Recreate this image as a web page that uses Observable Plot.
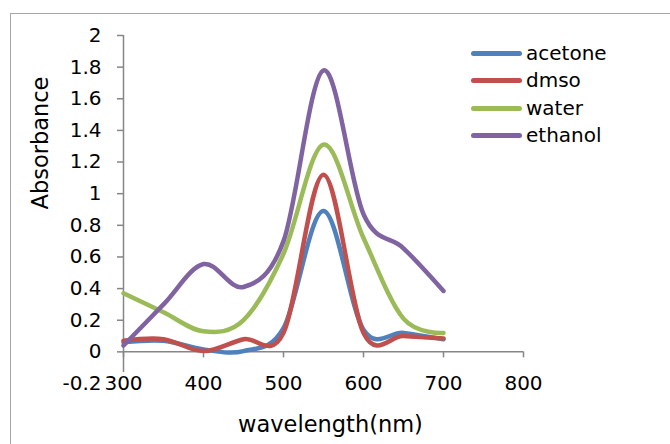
<!DOCTYPE html>
<html>
<head>
<meta charset="utf-8">
<script src="https://cdn.jsdelivr.net/npm/d3@7"></script>
<script src="https://cdn.jsdelivr.net/npm/@observablehq/plot@0.6"></script>
<style>
  html, body { margin: 0; padding: 0; background: #fff; }
  #wrap { position: relative; width: 670px; height: 444px; overflow: hidden; background: #fff; }
  #frame { position: absolute; left: 10px; top: 13px; width: 800px; height: 600px;
           border-left: 1.5px solid #a6a6a6; border-top: 1.5px solid #a6a6a6; }
  #chart { position: absolute; left: 0; top: 0; }
  #legend { position: absolute; left: 471px; top: 40px; font-family: "DejaVu Sans"; font-size: 20px;
            line-height: 27.3px; color: #000; }
  #legend .sw { display: inline-block; width: 51px; height: 5px; border-radius: 3px; vertical-align: middle; margin-right: 4px; position: relative; top: -1px; }
</style>
</head>
<body>
<div id="wrap">
  <div id="frame"></div>
  <div id="chart"></div>
  <div id="legend"></div>
</div>
<script>
// ---- data ----
const wavelengths = [300, 350, 400, 450, 500, 550, 600, 650, 700];
const acetone = [0.06, 0.07, 0.015, 0.005, 0.15, 0.89, 0.14, 0.12, 0.08];
const dmso    = [0.07, 0.08, 0.005, 0.08, 0.12, 1.12, 0.12, 0.10, 0.085];
const water   = [0.37, 0.25, 0.13, 0.20, 0.62, 1.31, 0.72, 0.21, 0.12];
const ethanol = [0.04, 0.30, 0.555, 0.41, 0.70, 1.78, 0.87, 0.655, 0.385];

const seriesNames = ["acetone", "dmso", "water", "ethanol"];
const seriesValues = [acetone, dmso, water, ethanol];
const seriesColors = ["#4F81BD", "#C0504D", "#9BBB59", "#8064A2"];

const xTicks = [300, 400, 500, 600, 700, 800];
const yTicks = [0, 0.2, 0.4, 0.6, 0.8, 1, 1.2, 1.4, 1.6, 1.8, 2];
const yBottomLabel = [-0.2];
const xTitle = "wavelength(nm)";
const yTitle = "Absorbance";

const rows = seriesNames.flatMap((name, i) =>
  wavelengths.map((w, j) => ({series: name, wavelength: w, absorbance: seriesValues[i][j]})));

const fmt = d => String(Math.round(d * 10) / 10);
const axisColor = "#868686";

const chart = Plot.plot({
  width: 670,
  height: 444,
  marginLeft: 123,
  marginRight: 147,
  marginTop: 35,
  marginBottom: 61,
  style: {fontFamily: "DejaVu Sans", fontSize: "20px", color: "#000", background: "transparent"},
  x: {domain: [300, 800], axis: null},
  y: {domain: [-0.2, 2], axis: null},
  color: {domain: seriesNames, range: seriesColors},
  marks: [
    // y axis line and ticks
    Plot.ruleX([300], {y1: -0.13, y2: 2, stroke: axisColor, strokeWidth: 1.5}),
    Plot.axisY(yTicks, {anchor: "left", tickSize: 6, tickPadding: 16, tickFormat: fmt,
                        stroke: axisColor, strokeWidth: 1.5, label: null, fontSize: 20}),
    Plot.axisY(yBottomLabel, {anchor: "left", tickSize: 0, tickPadding: 22, tickFormat: fmt,
                              label: null, fontSize: 20}),
    // x axis line at y = 0, ticks downward, labels at the bottom
    Plot.ruleY([0], {x1: 300, x2: 800, stroke: axisColor, strokeWidth: 1.5}),
    Plot.ruleX(xTicks, {x: d => d, y1: 0, y2: -0.038, stroke: axisColor, strokeWidth: 1.5}),
    Plot.text(xTicks, {x: d => d, y: -0.2, text: d => String(d), fontSize: 20, fill: "#000"}),
    // series
    Plot.line(rows, {x: "wavelength", y: "absorbance", z: "series", stroke: "series",
                     strokeWidth: 4.5, curve: "cardinal", tension: 0, strokeLinecap: "round", strokeLinejoin: "round"}),
    // axis titles
    Plot.text([xTitle], {frameAnchor: "bottom", lineAnchor: "middle", dy: 41, dx: 7, fontSize: 22.5, fill: "#000"}),
    Plot.text([yTitle], {frameAnchor: "left", lineAnchor: "middle", rotate: -90, dx: -83, fontSize: 22.5, fill: "#000"})
  ]
});
document.getElementById("chart").appendChild(chart);

const legend = document.getElementById("legend");
seriesNames.forEach((name, i) => {
  const row = document.createElement("div");
  const sw = document.createElement("span");
  sw.className = "sw";
  sw.style.background = seriesColors[i];
  const label = document.createElement("span");
  label.textContent = name;
  row.appendChild(sw);
  row.appendChild(label);
  legend.appendChild(row);
});
</script>
</body>
</html>
